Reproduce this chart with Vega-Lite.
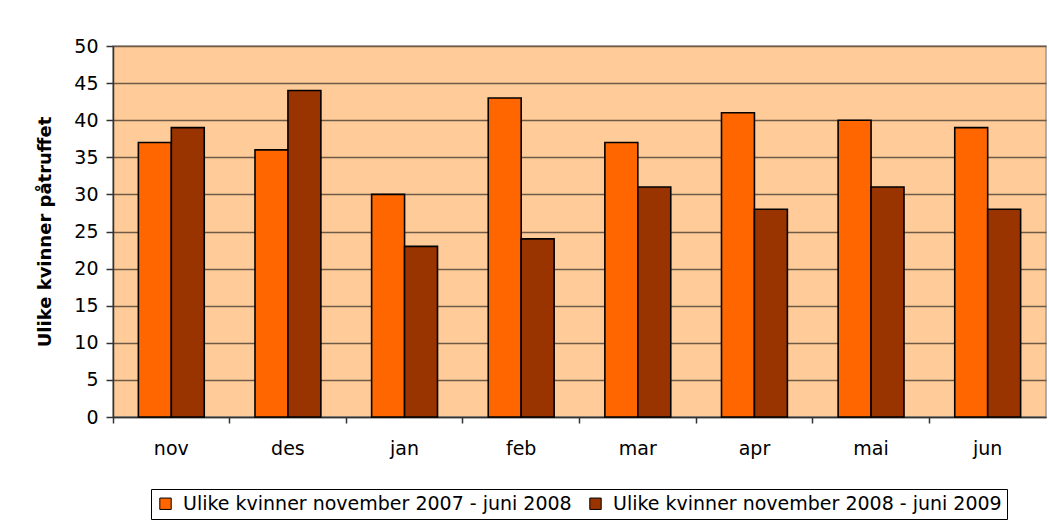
{
  "$schema": "https://vega.github.io/schema/vega-lite/v6.json",
  "width": 933,
  "height": 371,
  "autosize": {"type": "none"},
  "padding": {"left": 113, "top": 46, "right": 3, "bottom": 112},
  "background": "white",
  "config": {
    "font": "DejaVu Sans",
    "view": {"fill": "#FFCC99", "stroke": "#999999", "strokeWidth": 1.5}
  },
  "data": {
    "values": [
      {"month": "nov", "series": "Ulike kvinner november 2007 - juni 2008", "value": 37},
      {"month": "nov", "series": "Ulike kvinner november 2008 - juni 2009", "value": 39},
      {"month": "des", "series": "Ulike kvinner november 2007 - juni 2008", "value": 36},
      {"month": "des", "series": "Ulike kvinner november 2008 - juni 2009", "value": 44},
      {"month": "jan", "series": "Ulike kvinner november 2007 - juni 2008", "value": 30},
      {"month": "jan", "series": "Ulike kvinner november 2008 - juni 2009", "value": 23},
      {"month": "feb", "series": "Ulike kvinner november 2007 - juni 2008", "value": 43},
      {"month": "feb", "series": "Ulike kvinner november 2008 - juni 2009", "value": 24},
      {"month": "mar", "series": "Ulike kvinner november 2007 - juni 2008", "value": 37},
      {"month": "mar", "series": "Ulike kvinner november 2008 - juni 2009", "value": 31},
      {"month": "apr", "series": "Ulike kvinner november 2007 - juni 2008", "value": 41},
      {"month": "apr", "series": "Ulike kvinner november 2008 - juni 2009", "value": 28},
      {"month": "mai", "series": "Ulike kvinner november 2007 - juni 2008", "value": 40},
      {"month": "mai", "series": "Ulike kvinner november 2008 - juni 2009", "value": 31},
      {"month": "jun", "series": "Ulike kvinner november 2007 - juni 2008", "value": 39},
      {"month": "jun", "series": "Ulike kvinner november 2008 - juni 2009", "value": 28}
    ]
  },
  "mark": {"type": "bar", "stroke": "#000000", "strokeWidth": 1.6},
  "encoding": {
    "x": {
      "field": "month",
      "type": "nominal",
      "sort": ["nov", "des", "jan", "feb", "mar", "apr", "mai", "jun"],
      "scale": {"paddingInner": 0, "paddingOuter": 0},
      "axis": {
        "title": null,
        "labelAngle": 0,
        "labelFontSize": 19,
        "labelColor": "#000000",
        "labelPadding": 16,
        "tickSize": 6,
        "tickColor": "#333333",
        "tickWidth": 1.5,
        "bandPosition": 0,
        "domainColor": "#333333",
        "domainWidth": 1.5,
        "grid": false
      }
    },
    "xOffset": {
      "field": "series",
      "type": "nominal",
      "scale": {"paddingInner": 0, "paddingOuter": 0.77}
    },
    "y": {
      "field": "value",
      "type": "quantitative",
      "scale": {"domain": [0, 50]},
      "axis": {
        "title": "Ulike kvinner påtruffet",
        "titleFontSize": 18,
        "titleFontWeight": "bold",
        "titleColor": "#000000",
        "titlePadding": 19,
        "values": [0, 5, 10, 15, 20, 25, 30, 35, 40, 45, 50],
        "labelFontSize": 19,
        "labelColor": "#000000",
        "labelPadding": 8,
        "tickSize": 7,
        "tickColor": "#333333",
        "tickWidth": 1.5,
        "domainColor": "#333333",
        "domainWidth": 1.5,
        "grid": true,
        "gridColor": "#6e5a47",
        "gridWidth": 1.6
      }
    },
    "color": {
      "field": "series",
      "type": "nominal",
      "scale": {"range": ["#FF6600", "#993300"]},
      "legend": {
        "title": null,
        "orient": "none",
        "legendX": 38,
        "legendY": 443,
        "direction": "horizontal",
        "columns": 2,
        "symbolType": "square",
        "symbolSize": 130,
        "symbolStrokeColor": "#000000",
        "symbolStrokeWidth": 1,
        "labelFontSize": 19,
        "labelColor": "#000000",
        "labelOffset": 8,
        "labelLimit": 600,
        "columnPadding": 14,
        "padding": 5,
        "strokeColor": "#000000",
        "fillColor": "#ffffff"
      }
    }
  }
}
